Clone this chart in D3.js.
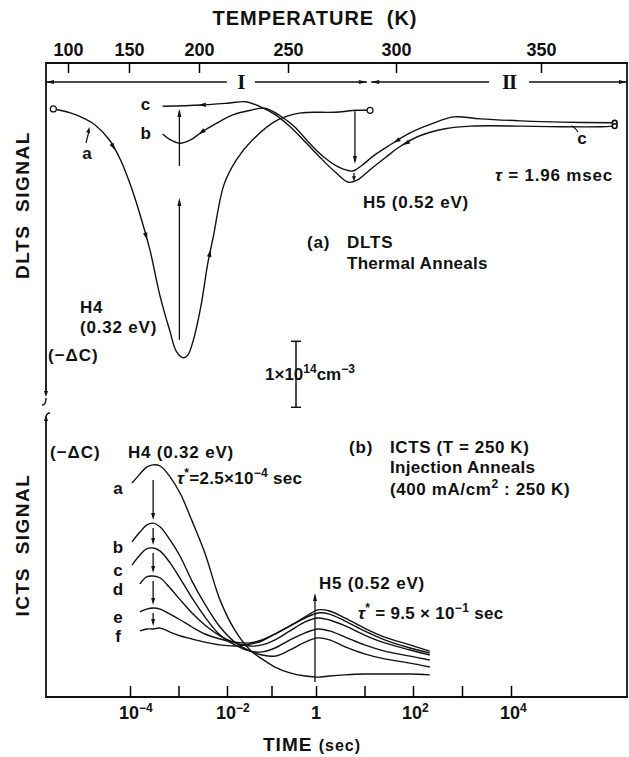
<!DOCTYPE html>
<html>
<head>
<meta charset="utf-8">
<script src="https://cdn.jsdelivr.net/npm/d3@7"></script>
<style>
body { margin: 0; background: #fff; }
text { font-family: "Liberation Sans", Arial, Helvetica, sans-serif; font-weight: bold; fill: #111; }
</style>
</head>
<body>
<script>
// top axis, temperature (K)
var tempTicks = [100, 150, 200, 250, 300, 350];
// bottom axis, time (sec)
var timeTicks = [1e-4, 1e-3, 1e-2, 1e-1, 1, 1e1, 1e2, 1e3, 1e4];
var timeLabelTicks = [1e-4, 1e-2, 1, 1e2, 1e4];
var timeLabelExp = ["\u22124", "\u22122", "", "2", "4"];

// temperature regions I and II
var regionNames = ["I", "II"];
var regionTemps = [[82, 286.5], [288.5, 380]];
var regionLabelTemps = [223.5, 339];

// (a) DLTS thermal anneals: [T (K), signal (1e14 cm^-3)]
var dltsA = [[88,-0.06],[102,-0.12],[114,-0.21],[122,-0.30],[134,-0.53],[143,-0.83],[151,-1.21],
  [158,-1.67],[165,-2.20],[172,-2.88],[179,-3.41],[184,-3.74],[189,-3.83],[192,-3.79],[196,-3.56],
  [201,-3.06],[205,-2.39],[208,-2.00],[214,-1.21],[221,-0.83],[230,-0.53],[244,-0.23],[256,-0.12],
  [271,-0.11],[282,-0.08],[288,-0.08]];
var dltsB = [[174,-0.44],[179,-0.52],[186,-0.58],[194,-0.53],[201,-0.42],[209,-0.29],[219,-0.15],
  [229,-0.08],[237,-0.05],[246,-0.17],[253,-0.33],[260,-0.58],[267,-0.80],[274,-0.95],[280,-1.00],
  [284,-0.92],[290,-0.76],[297,-0.61],[305,-0.42],[312,-0.29],[320,-0.18],[329,-0.21],[343,-0.24],
  [357,-0.26],[375,-0.27]];
var dltsC = [[174,-0.02],[201,0.00],[217,0.03],[226,0.05],[234,-0.02],[243,-0.15],[251,-0.33],
  [258,-0.56],[265,-0.80],[272,-1.02],[278,-1.17],[282,-1.14],[288,-0.98],[295,-0.80],[301,-0.64],
  [308,-0.47],[317,-0.36],[326,-0.32],[343,-0.32],[357,-0.33],[371,-0.33],[375,-0.32]];
var tauH4Temp = 186, tauH5Temp = 281;

// (b) ICTS at 250 K, one time base (sec) for all curves
var ictsTime = [1.1e-4, 1.6e-4, 2.2e-4, 3.0e-4, 4.2e-4, 6.7e-4, 1.1e-3, 1.9e-3, 3.5e-3, 7.2e-3,
  1.5e-2, 3.3e-2, 6.1e-2, 0.12, 0.26, 0.57, 1.1, 1.9, 4.0, 10, 26, 87, 220];
var ictsA = [7.64,7.96,8.21,8.29,8.25,7.86,7.25,6.29,5.14,3.46,2.39,1.68,1.36,1.07,0.86,0.75,0.71,0.75,0.79,0.82,0.82,0.82,0.79];
var ictsB = [5.54,5.89,6.14,6.21,6.07,5.61,5.00,4.14,3.32,2.50,1.96,1.64,1.50,1.46,1.68,1.96,2.11,2.04,1.79,1.54,1.36,1.21,1.07];
var ictsC = [4.71,5.07,5.29,5.32,5.21,4.79,4.21,3.54,2.86,2.21,1.86,1.64,1.61,1.75,2.04,2.29,2.43,2.36,2.14,1.86,1.64,1.46,1.32];
var ictsD = [null,4.04,4.29,4.32,4.25,3.89,3.46,3.00,2.57,2.18,1.93,1.82,1.86,2.04,2.36,2.68,2.82,2.75,2.54,2.21,1.93,1.68,1.50];
var ictsE = [null,3.04,3.14,3.18,3.14,2.96,2.75,2.50,2.25,2.07,1.96,1.93,2.04,2.25,2.54,2.82,3.00,2.96,2.71,2.36,2.04,1.75,1.57];
var ictsF = [null,2.36,2.43,2.43,2.46,2.32,2.18,2.07,1.96,1.86,1.82,1.89,2.00,2.25,2.54,2.86,3.11,3.07,2.82,2.46,2.14,1.86,1.64];
var ictsNames = ["a", "b", "c", "d", "e", "f"];
var ictsPeakIndex = 3;
var tauH5Time = 0.95;

var svg = d3.select("body").append("svg").attr("width", 629).attr("height", 757);

var tempX = d3.scaleLinear().domain([82, 100, 150, 200, 250, 300, 350, 380])
  .range([46, 68, 129, 199, 288, 396, 541, 627]);
var dltsY = d3.scaleLinear().domain([0, -4]).range([105, 369]);
var timeX = d3.scaleLog().domain([1e-4, 1e-2, 1, 1e2, 1e4]).range([130, 227, 316, 413, 511]);
var ictsY = d3.scaleLinear().domain([0, 10]).range([697, 417]);

function head(x, y, ang, len, wid) {
  svg.append("path")
    .attr("d", "M0,0L" + (-len) + "," + (-wid / 2) + "L" + (-len) + "," + (wid / 2) + "Z")
    .attr("transform", "translate(" + x + "," + y + ") rotate(" + ang + ")")
    .attr("fill", "#111");
}

function vline(x, y0, y1, w) {
  svg.append("line").attr("x1", x).attr("x2", x).attr("y1", y0).attr("y2", y1)
    .attr("stroke", "#111").attr("stroke-width", w || 1.3);
}

// text with superscripts / italics, parts = [[str, kind]]
function rich(x, y, parts, size, anchor, spacing) {
  var t = svg.append("text").attr("x", x).attr("y", y).attr("dy", "0.35em")
    .style("font-size", size + "px");
  if (anchor) t.attr("text-anchor", anchor);
  if (spacing) t.style("letter-spacing", spacing + "px");
  var up = false;
  parts.forEach(function(p) {
    var s = t.append("tspan").text(p[0]);
    if (p[1] === "sup") {
      s.style("font-size", Math.round(size * 0.68) + "px");
      if (!up) { s.attr("dy", -0.42 * size); up = true; }
    } else {
      if (up) { s.attr("dy", 0.42 * size); up = false; }
      if (p[1] === "it") s.style("font-style", "italic");
    }
  });
  return t;
}

// frame, left side broken between the two panels
svg.append("path").attr("d", "M46,394V63H627V697H46V419")
  .attr("fill", "none").attr("stroke", "#111").attr("stroke-width", 1.8);
head(46, 397, 90, 6, 4);
svg.append("path").attr("d", "M46,398Q46,405 42,405")
  .attr("fill", "none").attr("stroke", "#111").attr("stroke-width", 1.4);
svg.append("path").attr("d", "M50,413Q46,413 46,418")
  .attr("fill", "none").attr("stroke", "#111").attr("stroke-width", 1.4);
head(46, 415, -90, 6, 4);

// top axis
var topAxis = svg.append("g").attr("transform", "translate(0,63)")
  .call(d3.axisTop(tempX).tickValues(tempTicks).tickSizeInner(-10).tickSizeOuter(0)
    .tickPadding(7).tickFormat(d3.format("d")));
topAxis.attr("font-size", 18).attr("font-family", null);
topAxis.select(".domain").remove();
topAxis.selectAll("line").attr("stroke-width", 1.5);

svg.append("text").attr("x", 315).attr("y", 18).attr("dy", "0.35em")
  .attr("text-anchor", "middle").style("font-size", "20px")
  .style("letter-spacing", "1px").style("word-spacing", "6px")
  .text("TEMPERATURE (K)");

// bottom axis
var botAxis = svg.append("g").attr("transform", "translate(0,697)")
  .call(d3.axisBottom(timeX).tickValues(timeTicks).tickSizeInner(-11).tickSizeOuter(0).tickFormat(""));
botAxis.select(".domain").remove();
botAxis.selectAll("line").attr("stroke-width", 1.5);
timeLabelTicks.forEach(function(v, i) {
  if (timeLabelExp[i] === "") rich(timeX(v), 713, [["1"]], 18, "middle");
  else rich(timeX(v) - 11, 713, [["10"], [timeLabelExp[i], "sup"]], 18, "start");
});
rich(263, 744, [["TIME"], ["  "], ["(sec)"]], 19, "start", 1).select("tspan:last-child")
  .style("font-size", "16px");

// y labels
svg.append("text").attr("transform", "translate(22,205) rotate(-90)").attr("dy", "0.35em")
  .attr("text-anchor", "middle").style("font-size", "19px").style("letter-spacing", "1.5px")
  .style("word-spacing", "6px").text("DLTS SIGNAL");
svg.append("text").attr("transform", "translate(22,545) rotate(-90)").attr("dy", "0.35em")
  .attr("text-anchor", "middle").style("font-size", "19px").style("letter-spacing", "1.5px")
  .style("word-spacing", "6px").text("ICTS SIGNAL");

// regions I / II
regionNames.forEach(function(name, i) {
  var x0 = tempX(regionTemps[i][0]), x1 = tempX(regionTemps[i][1]), xl = tempX(regionLabelTemps[i]);
  var gap = name.length * 6 + 8;
  svg.append("line").attr("x1", x0).attr("x2", xl - gap).attr("y1", 82).attr("y2", 82)
    .attr("stroke", "#111").attr("stroke-width", 1.3);
  svg.append("line").attr("x1", xl + gap).attr("x2", x1).attr("y1", 82).attr("y2", 82)
    .attr("stroke", "#111").attr("stroke-width", 1.3);
  head(x0, 82, 180, 8, 4);
  head(x1, 82, 0, 8, 4);
  svg.append("text").attr("x", xl).attr("y", 82).attr("dy", "0.35em").attr("text-anchor", "middle")
    .style("font-family", "'Liberation Serif', 'Times New Roman', serif")
    .style("font-size", "21px").style("letter-spacing", "-1px").text(name);
});

// DLTS curves
var dltsLine = d3.line().x(function(d) { return tempX(d[0]); })
  .y(function(d) { return dltsY(d[1]); }).curve(d3.curveCatmullRom);
[dltsA, dltsB, dltsC].forEach(function(s) {
  svg.append("path").attr("d", dltsLine(s)).attr("fill", "none")
    .attr("stroke", "#111").attr("stroke-width", 1.4);
});

function curveArrow(s, i, f, dir) {
  var x0 = tempX(s[i][0]), y0 = dltsY(s[i][1]), x1 = tempX(s[i + 1][0]), y1 = dltsY(s[i + 1][1]);
  var ang = Math.atan2(y1 - y0, x1 - x0) * 180 / Math.PI + (dir < 0 ? 180 : 0);
  head(x0 + (x1 - x0) * f, y0 + (y1 - y0) * f, ang, 7, 4.5);
}
curveArrow(dltsA, 4, 0.5, 1);
curveArrow(dltsA, 7, 0.7, 1);
curveArrow(dltsA, 16, 0.5, 1);
curveArrow(dltsB, 3, 0.8, -1);
curveArrow(dltsB, 17, 0.2, -1);
curveArrow(dltsC, 0, 0.95, -1);
curveArrow(dltsC, 14, 0.2, -1);

// end markers
[dltsA[0], dltsA[dltsA.length - 1]].forEach(function(d) {
  svg.append("circle").attr("cx", tempX(d[0])).attr("cy", dltsY(d[1])).attr("r", 3)
    .attr("fill", "#fff").attr("stroke", "#111").attr("stroke-width", 1.2);
});
[dltsB[dltsB.length - 1], dltsC[dltsC.length - 1]].forEach(function(d) {
  svg.append("circle").attr("cx", tempX(d[0]) + 2).attr("cy", dltsY(d[1])).attr("r", 2.4)
    .attr("fill", "#fff").attr("stroke", "#111").attr("stroke-width", 1.6);
});

// peak arrows in DLTS
var aMin = d3.min(dltsA, function(d) { return d[1]; });
var bMin = d3.min(dltsB, function(d) { return d[1]; });
var cMin = d3.min(dltsC, function(d) { return d[1]; });
var xH4 = tempX(tauH4Temp), xH5 = tempX(tauH5Temp);
vline(xH4, dltsY(aMin) - 18, dltsY(bMin) + 30);
head(xH4, dltsY(bMin) + 27, -90, 8, 4);
vline(xH4, dltsY(bMin) - 5, dltsY(0) + 6);
head(xH4, dltsY(0) + 4, -90, 8, 4);
vline(xH5, dltsY(dltsA[dltsA.length - 1][1]) + 1, dltsY(-1.0) - 10);
head(xH5, dltsY(-1.0) - 7, 90, 8, 4);
vline(xH5 - 1, dltsY(-1.0) + 2, dltsY(cMin) - 4);
head(xH5 - 1, dltsY(cMin) - 1, 90, 5, 4);

// DLTS labels
rich(87, 153, [["a"]], 17, "middle");
svg.append("line").attr("x1", 86).attr("y1", 143).attr("x2", 89).attr("y2", 131)
  .attr("stroke", "#111").attr("stroke-width", 1.2);
head(89.5, 127, -76, 6, 4);
rich(tempX(dltsB[0][0]) - 17, dltsY(dltsB[0][1]) - 1, [["b"]], 17, "middle");
rich(tempX(dltsC[0][0]) - 17, dltsY(dltsC[0][1]) - 2, [["c"]], 17, "middle");
rich(582, 138, [["c"]], 17, "middle");
svg.append("path").attr("d", "M571,126Q575,127 578,132").attr("fill", "none")
  .attr("stroke", "#111").attr("stroke-width", 1.2);

rich(495, 175, [["\u03c4", "it"], [" = 1.96 msec"]], 17, "start", 0.8);
rich(363, 202, [["H5 (0.52 eV)"]], 17, "start", 0.8);
rich(307, 242, [["(a)"]], 17, "start", 0.8);
rich(347, 242, [["DLTS"]], 17, "start", 0.8);
rich(347, 263, [["Thermal Anneals"]], 17, "start", 0.3);
rich(80, 307, [["H4"]], 17, "start", 0.8);
rich(80, 327, [["(0.32 eV)"]], 17, "start", 0.8);
rich(48, 355, [["(\u2212\u0394C)"]], 17, "start", 1);

// scale bar 1e14 cm^-3
var sbX = 296, sbTop = dltsY(-3.58), sbBot = dltsY(-4.58);
vline(sbX, sbTop, sbBot, 1.5);
svg.append("line").attr("x1", sbX - 5).attr("x2", sbX + 5).attr("y1", sbTop).attr("y2", sbTop)
  .attr("stroke", "#111").attr("stroke-width", 1.5);
svg.append("line").attr("x1", sbX - 5).attr("x2", sbX + 5).attr("y1", sbBot).attr("y2", sbBot)
  .attr("stroke", "#111").attr("stroke-width", 1.5);
rich(265, (sbTop + sbBot) / 2, [["1\u00d710"], ["14", "sup"], ["cm"], ["\u22123", "sup"]], 17, "start");

// ICTS curves
var ictsSeries = [ictsA, ictsB, ictsC, ictsD, ictsE, ictsF];
var ictsLine = d3.line().defined(function(d) { return d[1] != null; })
  .x(function(d) { return timeX(d[0]); }).y(function(d) { return ictsY(d[1]); })
  .curve(d3.curveCatmullRom);
ictsSeries.forEach(function(vals, k) {
  var pts = ictsTime.map(function(t, i) { return [t, vals[i]]; });
  svg.append("path").attr("d", ictsLine(pts)).attr("fill", "none")
    .attr("stroke", "#111").attr("stroke-width", 1.4);
  var first = pts.filter(function(d) { return d[1] != null; })[0];
  rich(118, ictsY(first[1]) + 5, [[ictsNames[k]]], 17, "middle");
});

// H4 arrows between successive peaks
var xP = timeX(ictsTime[ictsPeakIndex]);
for (var k = 0; k < ictsSeries.length - 1; k++) {
  var yTop = ictsY(ictsSeries[k][ictsPeakIndex]) + (k === 0 ? 15 : 5);
  var yBot = ictsY(ictsSeries[k + 1][ictsPeakIndex]) - 3;
  vline(xP, yTop, yBot - 3);
  head(xP, yBot, 90, 7, 4);
}

// H5 line
var fPeak = d3.max(ictsF), aLow = d3.min(ictsA);
var xT5 = timeX(tauH5Time);
vline(xT5, ictsY(fPeak) - 14, ictsY(aLow) + 5);
head(xT5, ictsY(fPeak) - 17, -90, 8, 4);

// ICTS labels
rich(50, 452, [["(\u2212\u0394C)"]], 17, "start", 1);
rich(128, 452, [["H4 (0.32 eV)"]], 17, "start", 0.8);
rich(177, 478, [["\u03c4", "it"], ["*", "sup"], ["=2.5\u00d710"], ["\u22124", "sup"], [" sec"]], 17, "start", 0.3);
rich(349, 447, [["(b)"]], 17, "start", 0.8);
rich(390, 447, [["ICTS (T = 250 K)"]], 17, "start", 0.6);
rich(390, 467, [["Injection Anneals"]], 17, "start", 0.3);
rich(390, 489, [["(400 mA/cm"], ["2", "sup"], [" : 250 K)"]], 17, "start", 0.6);
rich(319, 583, [["H5 (0.52 eV)"]], 17, "start", 0.8);
rich(358, 613, [["\u03c4", "it"], ["*", "sup"], [" = 9.5 \u00d7 10"], ["\u22121", "sup"], [" sec"]], 17, "start", 0.3);
</script>
</body>
</html>
